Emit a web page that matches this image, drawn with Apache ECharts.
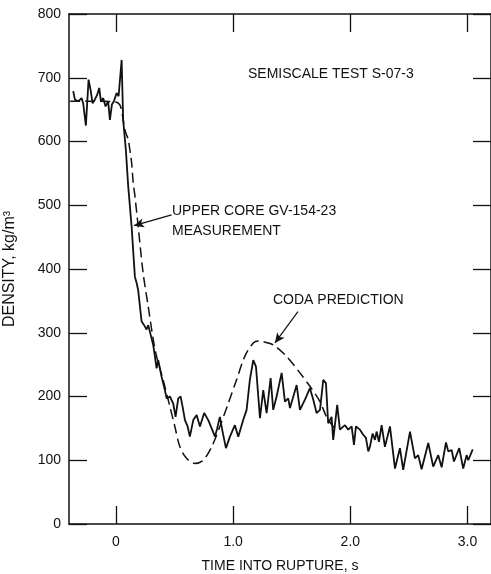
<!DOCTYPE html>
<html><head><meta charset="utf-8">
<script src="https://cdn.jsdelivr.net/npm/echarts@6/dist/echarts.min.js"></script>
<style>html,body{margin:0;padding:0;background:#fff}#c{width:491px;height:574px}</style>
</head><body><div id="c"></div>
<script>
// Measured density, upper core GV-154-23 (time s, density kg/m3)
const measTime = [-0.364,-0.350,-0.322,-0.293,-0.279,-0.256,-0.233,-0.216,-0.199,-0.179,-0.160,-0.142,-0.128,-0.108,-0.088,-0.066,-0.051,-0.034,-0.017,0.006,0.023,0.049,0.062,0.085,0.105,0.134,0.162,0.177,0.190,0.219,0.247,0.262,0.276,0.290,0.318,0.333,0.347,0.361,0.375,0.390,0.418,0.433,0.461,0.489,0.509,0.532,0.552,0.569,0.589,0.612,0.631,0.660,0.689,0.717,0.753,0.788,0.817,0.845,0.864,0.887,0.910,0.939,0.973,1.015,1.044,1.086,1.115,1.143,1.172,1.195,1.229,1.257,1.286,1.320,1.342,1.371,1.414,1.442,1.470,1.485,1.542,1.570,1.613,1.655,1.684,1.712,1.741,1.769,1.792,1.811,1.840,1.854,1.888,1.911,1.954,1.982,2.011,2.031,2.048,2.082,2.110,2.133,2.153,2.167,2.190,2.210,2.224,2.244,2.267,2.295,2.338,2.381,2.423,2.451,2.509,2.551,2.579,2.608,2.665,2.707,2.750,2.779,2.816,2.835,2.864,2.884,2.929,2.963,2.992,3.006,3.044];
const measDensity = [679,666,663,668,660,625,697,681,660,666,673,684,663,668,655,663,634,658,663,676,671,728,634,587,530,467,388,378,367,318,310,305,312,310,281,263,244,257,260,231,210,197,200,189,168,197,200,184,163,153,137,163,171,153,174,163,150,137,150,168,145,119,137,155,137,163,179,226,257,247,166,210,174,229,179,200,237,192,197,182,218,179,195,213,195,174,179,226,221,158,168,132,187,148,155,148,153,124,153,148,140,135,114,121,142,132,145,129,155,121,153,87,119,85,145,103,108,86,127,90,108,89,128,114,116,98,119,87,108,100,117];
// CODA prediction
const codaTime = [-0.39,-0.2,0.0,0.04,0.077,0.105,0.119,0.134,0.148,0.162,0.190,0.232,0.276,0.318,0.347,0.403,0.461,0.503,0.546,0.603,0.674,0.745,0.817,0.887,0.958,1.029,1.100,1.172,1.215,1.257,1.343,1.456,1.570,1.655,1.741,1.797,1.854,1.900];
const codaDensity = [663,663,662,655,618,603,587,567,535,515,467,394,341,290,263,226,184,153,121,103,95,100,121,153,189,226,263,284,287,286,281,263,237,216,192,168,153,145];
const xTicks = [0, 1, 2, 3];
const xTickLabels = ['0', '1.0', '2.0', '3.0'];

const ink = '#111';
const font = 'Liberation Sans';
const meas = measTime.map((t,i)=>[t, measDensity[i]]);
const coda = codaTime.map((t,i)=>[t, codaDensity[i]]);

const chart = echarts.init(document.getElementById('c'), null, {renderer:'canvas'});
const tickStyle = {show:true, inside:true, length:18, lineStyle:{color:ink, width:1.3}};
chart.setOption({
  animation:false,
  backgroundColor:'#fff',
  grid:{left:69, right:0, top:14, bottom:50, containLabel:false, outerBoundsMode:'none'},
  xAxis:[{
    type:'value', min:-0.4, max:3.2, position:'bottom',
    axisLine:{show:true, onZero:false, lineStyle:{color:ink, width:1.5}},
    axisTick:Object.assign({customValues:xTicks}, tickStyle),
    axisLabel:{customValues:xTicks, formatter:(v)=>xTickLabels[xTicks.indexOf(v)] ?? '', color:ink, fontFamily:font, fontSize:14, margin:11},
    splitLine:{show:false},
    name:'TIME INTO RUPTURE, s', nameLocation:'middle', nameGap:35,
    nameTextStyle:{color:ink, fontFamily:font, fontSize:14}
  },{
    type:'value', min:-0.4, max:3.2, position:'top',
    axisLine:{show:true, onZero:false, lineStyle:{color:ink, width:1.5}},
    axisTick:Object.assign({customValues:xTicks}, tickStyle),
    axisLabel:{show:false}, splitLine:{show:false}
  }],
  yAxis:[{
    type:'value', min:0, max:800, interval:100, position:'left',
    axisLine:{show:true, onZero:false, lineStyle:{color:ink, width:1.5}},
    axisTick:tickStyle,
    axisLabel:{color:ink, fontFamily:font, fontSize:14, margin:8},
    splitLine:{show:false},
    name:'DENSITY, kg/m³', nameLocation:'middle', nameGap:51, nameRotate:90,
    nameTextStyle:{color:ink, fontFamily:font, fontSize:16}
  },{
    type:'value', min:0, max:800, interval:100, position:'right',
    axisLine:{show:true, onZero:false, lineStyle:{color:ink, width:1.5}},
    axisTick:tickStyle, axisLabel:{show:false}, splitLine:{show:false}
  }],
  series:[{
    type:'line', name:'measurement', data:meas, showSymbol:false, symbol:'none',
    lineStyle:{color:ink, width:1.8}, z:3,
    markLine:{silent:true, symbol:['none','arrow'], symbolSize:[7,10], label:{show:false},
      lineStyle:{color:ink, width:1.2, type:'solid'},
      data:[[{coord:[0.475,485]},{coord:[0.154,468]}],[{coord:[1.553,333]},{coord:[1.357,284]}]]}
  },{
    type:'line', name:'coda', data:coda, showSymbol:false, symbol:'none', smooth:0.3,
    lineStyle:{color:ink, width:1.5, type:[10,5]}, z:2
  }],
  graphic:[
    {type:'text', left:248, top:67, style:{text:'SEMISCALE TEST S-07-3', fill:ink, font:'14px "Liberation Sans"'}},
    {type:'text', left:172, top:204, style:{text:'UPPER CORE GV-154-23', fill:ink, font:'14px "Liberation Sans"'}},
    {type:'text', left:172, top:224, style:{text:'MEASUREMENT', fill:ink, font:'14px "Liberation Sans"'}},
    {type:'text', left:273, top:293, style:{text:'CODA PREDICTION', fill:ink, font:'14px "Liberation Sans"'}}
  ]
});
</script></body></html>
